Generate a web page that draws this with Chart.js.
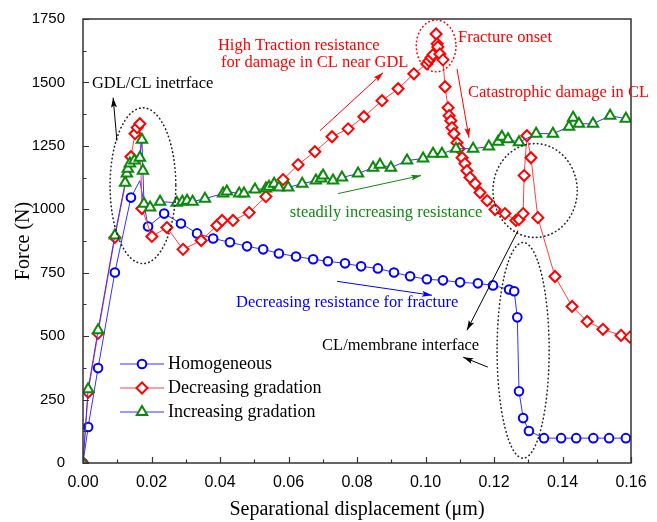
<!DOCTYPE html>
<html>
<head>
<meta charset="utf-8">
<script src="https://cdn.jsdelivr.net/npm/chart.js@4.4.1/dist/chart.umd.min.js"></script>
<style>
  html, body { margin: 0; padding: 0; background: #fff; }
  #wrap { width: 657px; height: 522px; }
</style>
</head>
<body>
<div id="wrap"><canvas id="chart" width="657" height="522"></canvas></div>
<script>
// data (x in um, force in N)
const homX = [0, 0.0015, 0.0044, 0.0093, 0.014, 0.0166, 0.019, 0.0237, 0.0286, 0.0333, 0.038, 0.0429, 0.0479, 0.0526, 0.0572, 0.0622, 0.0672, 0.0715, 0.0765, 0.0812, 0.0861, 0.0908, 0.0955, 0.1004, 0.1051, 0.1101, 0.1153, 0.1197, 0.1244, 0.1259, 0.1268, 0.1273, 0.1285, 0.1302, 0.1346, 0.1396, 0.144, 0.149, 0.1536, 0.1585];
const homY = [0, 142, 374, 751, 1046, 1113, 932, 983, 944, 905, 885, 870, 854, 842, 826, 814, 803, 795, 787, 775, 767, 751, 736, 724, 720, 712, 708, 700, 684, 677, 574, 283, 177, 126, 98, 98, 98, 98, 98, 98];

const decX = [0, 0.0015, 0.0044, 0.0093, 0.014, 0.0152, 0.0158, 0.0166, 0.0172, 0.0201, 0.0245, 0.0292, 0.0345, 0.0391, 0.0406, 0.0438, 0.0485, 0.0534, 0.0584, 0.0628, 0.0677, 0.0727, 0.0774, 0.082, 0.0873, 0.092, 0.0966, 0.1004, 0.101, 0.1016, 0.1022, 0.1031, 0.1034, 0.1036, 0.1042, 0.1051, 0.1057, 0.1066, 0.1069, 0.1074, 0.1077, 0.1083, 0.1092, 0.1098, 0.1107, 0.1115, 0.1121, 0.113, 0.1145, 0.1159, 0.118, 0.1203, 0.1232, 0.1264, 0.1273, 0.1285, 0.1288, 0.1296, 0.1308, 0.1328, 0.1378, 0.1428, 0.1472, 0.1518, 0.1571, 0.1597];
const decY = [0, 279, 511, 889, 1207, 1298, 1322, 1337, 1003, 893, 928, 842, 877, 936, 956, 956, 987, 1050, 1117, 1176, 1227, 1286, 1317, 1365, 1428, 1475, 1534, 1573, 1585, 1597, 1609, 1691, 1652, 1640, 1612, 1589, 1483, 1400, 1369, 1349, 1322, 1298, 1262, 1239, 1203, 1180, 1152, 1125, 1101, 1066, 1034, 999, 983, 956, 960, 983, 1133, 1290, 1203, 967, 735, 617, 558, 527, 503, 496];

const incX = [0, 0.0015, 0.0044, 0.0093, 0.0123, 0.0128, 0.0131, 0.0137, 0.015, 0.0166, 0.0172, 0.0175, 0.0178, 0.0196, 0.0225, 0.0274, 0.029, 0.0304, 0.032, 0.0356, 0.0409, 0.042, 0.0456, 0.047, 0.0502, 0.0534, 0.0543, 0.0558, 0.0572, 0.0599, 0.064, 0.068, 0.0695, 0.0701, 0.073, 0.0756, 0.0803, 0.0847, 0.0867, 0.0899, 0.0946, 0.0993, 0.1022, 0.1048, 0.1089, 0.1139, 0.1185, 0.1212, 0.1223, 0.1241, 0.1273, 0.1323, 0.1372, 0.1419, 0.1431, 0.1448, 0.1489, 0.1539, 0.1585];
const incY = [0, 291, 523, 897, 1105, 1141, 1160, 1180, 1192, 1203, 1274, 1152, 1022, 1007, 1030, 1026, 1030, 1034, 1030, 1042, 1062, 1070, 1062, 1062, 1078, 1082, 1089, 1101, 1086, 1086, 1101, 1113, 1121, 1133, 1113, 1125, 1141, 1164, 1176, 1164, 1192, 1200, 1219, 1219, 1239, 1239, 1247, 1266, 1286, 1276, 1264, 1298, 1298, 1325, 1361, 1337, 1337, 1369, 1357];

const seriesNames = ['Homogeneous', 'Decreasing gradation', 'Increasing gradation'];
const xTicks = [0, 0.02, 0.04, 0.06, 0.08, 0.1, 0.12, 0.14, 0.16];
const yTicks = [0, 250, 500, 750, 1000, 1250, 1500, 1750];

const toPts = (xs, ys) => xs.map((v, i) => ({x: v, y: ys[i]}));

const serif = '"Liberation Serif", "Times New Roman", serif';
const sans = '"Liberation Sans", Arial, sans-serif';

// annotation texts, in data coordinates (left x, middle y)
const notes = [
  {text: 'High Traction resistance', x: 0.0394, y: 1644, color: '#ff0000'},
  {text: 'for damage in CL near GDL', x: 0.0403, y: 1577, color: '#ff0000'},
  {text: 'Fracture onset', x: 0.1095, y: 1675, color: '#ff0000'},
  {text: 'Catastrophic damage in CL', x: 0.1124, y: 1459, color: '#ff0000'},
  {text: 'GDL/CL inetrface', x: 0.0026, y: 1494, color: '#000'},
  {text: 'steadily increasing resistance', x: 0.0604, y: 987, color: '#118811'},
  {text: 'Decreasing resistance for fracture', x: 0.0447, y: 633, color: '#0000ff'},
  {text: 'CL/membrane interface', x: 0.0698, y: 464, color: '#000'}
];
const arrows = [
  {from: [0.0692, 1310], to: [0.0876, 1538], color: '#ff0000'},
  {from: [0.1092, 1553], to: [0.1127, 1282], color: '#ff0000'},
  {from: [0.0745, 1062], to: [0.0987, 1133], color: '#118811'},
  {from: [0.0742, 716], to: [0.1019, 661], color: '#0000ff'},
  {from: [0.0099, 1270], to: [0.0088, 1440], color: '#000'},
  {from: [0.127, 916], to: [0.1121, 523], color: '#000'},
  {from: [0.1182, 378], to: [0.111, 417], color: '#000'}
];
const ellipses = [
  {cx: 0.0175, cy: 1093, rx: 0.0096, ry: 307, color: '#222'},
  {cx: 0.1031, cy: 1644, rx: 0.0058, ry: 102, color: '#ff0000'},
  {cx: 0.132, cy: 1074, rx: 0.0123, ry: 185, color: '#222'},
  {cx: 0.1285, cy: 444, rx: 0.0076, ry: 425, color: '#222'}
];

const overlay = {
  id: 'overlay',
  afterDraw(chart) {
    const {ctx, chartArea: a, scales: {x, y}} = chart;
    ctx.save();

    // frame + inward ticks
    ctx.strokeStyle = '#333';
    ctx.lineWidth = 1.5;
    ctx.strokeRect(a.left, a.top, a.right - a.left, a.bottom - a.top);
    ctx.lineWidth = 1.2;
    ctx.beginPath();
    for (let v = 0; v <= 1750.1; v += 125) {
      const py = Math.round(y.getPixelForValue(v)) + 0.5;
      const len = (Math.round(v) % 250 === 0) ? 6 : 3.5;
      ctx.moveTo(a.left, py); ctx.lineTo(a.left + len, py);
    }
    for (let i = 0; i <= 16; i++) {
      const px = Math.round(x.getPixelForValue(i * 0.01)) + 0.5;
      const len = (i % 2 === 0) ? 6 : 3.5;
      ctx.moveTo(px, a.bottom); ctx.lineTo(px, a.bottom - len);
    }
    ctx.stroke();

    // dotted ellipses
    ctx.lineWidth = 1.6;
    ctx.lineCap = 'round';
    ctx.setLineDash([0.5, 3.5]);
    ellipses.forEach(e => {
      const cx = x.getPixelForValue(e.cx), cy = y.getPixelForValue(e.cy);
      const rx = x.getPixelForValue(e.cx + e.rx) - cx;
      const ry = cy - y.getPixelForValue(e.cy + e.ry);
      ctx.strokeStyle = e.color;
      ctx.beginPath();
      ctx.ellipse(cx, cy, rx, ry, 0, 0, Math.PI * 2);
      ctx.stroke();
    });
    ctx.setLineDash([]);
    ctx.lineCap = 'butt';

    // arrows
    arrows.forEach(ar => {
      const x1 = x.getPixelForValue(ar.from[0]), y1 = y.getPixelForValue(ar.from[1]);
      const x2 = x.getPixelForValue(ar.to[0]), y2 = y.getPixelForValue(ar.to[1]);
      const ang = Math.atan2(y2 - y1, x2 - x1);
      ctx.strokeStyle = ar.color;
      ctx.fillStyle = ar.color;
      ctx.lineWidth = 1;
      ctx.beginPath();
      ctx.moveTo(x1, y1); ctx.lineTo(x2, y2);
      ctx.stroke();
      ctx.beginPath();
      ctx.moveTo(x2, y2);
      ctx.lineTo(x2 - 10 * Math.cos(ang) + 3 * Math.sin(ang), y2 - 10 * Math.sin(ang) - 3 * Math.cos(ang));
      ctx.lineTo(x2 - 8 * Math.cos(ang), y2 - 8 * Math.sin(ang));
      ctx.lineTo(x2 - 10 * Math.cos(ang) - 3 * Math.sin(ang), y2 - 10 * Math.sin(ang) + 3 * Math.cos(ang));
      ctx.closePath();
      ctx.fill();
    });

    // annotation texts
    ctx.font = '16.5px ' + serif;
    ctx.textBaseline = 'middle';
    ctx.textAlign = 'left';
    notes.forEach(n => {
      ctx.fillStyle = n.color;
      ctx.fillText(n.text, x.getPixelForValue(n.x), y.getPixelForValue(n.y));
    });

    // legend (line + marker + label)
    const lx = a.left + 37, ly = a.top + 345, gap = 24;
    chart.data.datasets.forEach((ds, i) => {
      const yy = ly + i * gap;
      ctx.strokeStyle = ds.borderColor;
      ctx.lineWidth = 1;
      ctx.beginPath();
      ctx.moveTo(lx, yy); ctx.lineTo(lx + 44, yy);
      ctx.stroke();
      ctx.strokeStyle = ds.pointBorderColor;
      ctx.fillStyle = '#fff';
      ctx.lineWidth = ds.pointBorderWidth;
      Chart.helpers.drawPoint(ctx, {pointStyle: ds.pointStyle, radius: ds.legendRadius, borderWidth: ds.pointBorderWidth, rotation: 0}, lx + 22, yy);
      ctx.fillStyle = '#000';
      ctx.font = '18px ' + serif;
      ctx.fillText(ds.label, lx + 48, yy);
    });

    ctx.restore();
  }
};

new Chart(document.getElementById('chart'), {
  type: 'scatter',
  data: {
    datasets: [
      {
        label: seriesNames[0],
        data: toPts(homX, homY),
        showLine: true,
        borderColor: '#3333ff',
        borderWidth: 1,
        pointStyle: 'circle',
        pointRadius: c => c.dataIndex === 5 ? 0 : 4.3,
        legendRadius: 4.3,
        pointBorderColor: '#0000ff',
        pointBackgroundColor: '#fff',
        pointBorderWidth: 2,
        order: 2
      },
      {
        label: seriesNames[1],
        data: toPts(decX, decY),
        showLine: true,
        borderColor: '#ff4040',
        borderWidth: 1,
        pointStyle: 'rectRot',
        pointRadius: 5.5,
        legendRadius: 5.5,
        pointBorderColor: '#ff0000',
        pointBackgroundColor: '#fff',
        pointBorderWidth: 2,
        order: 1
      },
      {
        label: seriesNames[2],
        data: toPts(incX, incY),
        showLine: true,
        borderColor: '#3333ff',
        borderWidth: 1,
        pointStyle: 'triangle',
        pointRadius: 6,
        legendRadius: 6,
        pointBorderColor: '#0a8a0a',
        pointBackgroundColor: '#fff',
        pointBorderWidth: 2,
        order: 0
      }
    ]
  },
  options: {
    responsive: false,
    animation: false,
    layout: {padding: {top: 18, right: 26, left: 0, bottom: 0}},
    plugins: {legend: {display: false}, tooltip: {enabled: false}},
    scales: {
      x: {
        type: 'linear',
        min: 0, max: 0.16,
        afterBuildTicks: s => { s.ticks = xTicks.map(v => ({value: v})); },
        afterFit: s => { s.height = 59; },
        grid: {display: false},
        border: {display: false},
        ticks: {
          color: '#000', padding: 2,
          font: {family: sans, size: 16},
          callback: v => v.toFixed(2),
          maxRotation: 0, autoSkip: false
        },
        title: {display: true, text: 'Separational displacement (\u03bcm)', color: '#000',
          font: {family: serif, size: 20}, padding: {top: 0, bottom: 0}}
      },
      y: {
        min: 0, max: 1750,
        afterBuildTicks: s => { s.ticks = yTicks.map(v => ({value: v})); },
        afterFit: s => { s.width = 83; },
        grid: {display: false},
        border: {display: false},
        ticks: {color: '#000', padding: 10, font: {family: sans, size: 15},
          callback: v => String(v)},
        title: {display: true, text: 'Force (N)', color: '#000',
          font: {family: serif, size: 20}, padding: {top: 12, bottom: 0}}
      }
    }
  },
  plugins: [overlay]
});
</script>
</body>
</html>
